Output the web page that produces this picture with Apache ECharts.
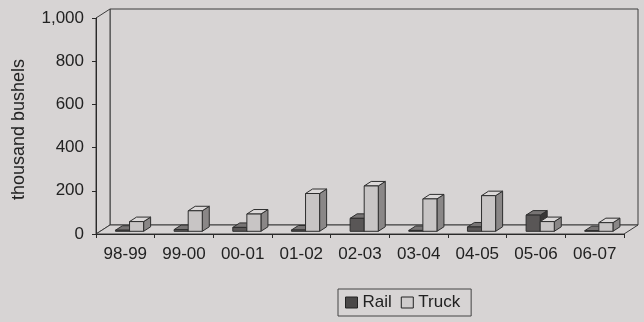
<!DOCTYPE html>
<html>
<head>
<meta charset="utf-8">
<script src="https://cdn.jsdelivr.net/npm/echarts@6/dist/echarts.min.js"></script>
<style>
  html, body { margin: 0; padding: 0; background: #d7d4d4; }
  #chart { width: 644px; height: 322px; }
</style>
</head>
<body>
<div id="chart"></div>
<script>
// Shipments by crop year, thousand bushels
const categories = ['98-99', '99-00', '00-01', '01-02', '02-03', '03-04', '04-05', '05-06', '06-07'];
const rail = [5, 8, 18, 6, 60, 4, 20, 75, 3];
const truck = [45, 95, 80, 175, 210, 150, 165, 45, 40];
const seriesNames = ['Rail', 'Truck'];

// Perspective offset of the back wall relative to the front plane
const DX = 14, DY = -9;
// Depth of the bar slab (fractions of the full depth)
const FRONT = 0.3, BACK = 0.8;
const BAR_FRAC = 0.24;

const FONT = '"Liberation Sans", Arial, sans-serif';
const FS = 17;
const BG = '#d7d4d4';
const EDGE = '#2e2e2e';

const palettes = {
  Rail: { front: '#595656', top: '#777474', side: '#383636', legend: '#4a4848' },
  Truck: { front: '#c8c5c5', top: '#dcd9d9', side: '#8a8787', legend: '#cfcccc' }
};

function renderWalls(params, api) {
  const cs = params.coordSys;
  const x = cs.x, y = cs.y, w = cs.width, h = cs.height;
  const style = { fill: BG, stroke: '#3c3c3c', lineWidth: 1 };
  return {
    type: 'group',
    children: [
      { type: 'polygon', shape: { points: [[x + DX, y + DY], [x + w + DX, y + DY], [x + w + DX, y + h + DY], [x + DX, y + h + DY]] }, style: style },
      { type: 'polygon', shape: { points: [[x, y], [x + DX, y + DY], [x + DX, y + h + DY], [x, y + h]] }, style: style },
      { type: 'polygon', shape: { points: [[x, y + h], [x + DX, y + h + DY], [x + w + DX, y + h + DY], [x + w, y + h]] }, style: style }
    ]
  };
}

function makeBarRenderer(name, slot) {
  const pal = palettes[name];
  return function (params, api) {
    const cat = api.value(0);
    const v = api.value(1);
    const band = api.size([1, 0])[0];
    const w = band * BAR_FRAC;
    const base = api.coord([cat, 0]);
    const top = api.coord([cat, v]);
    const x0 = base[0] + (slot === 0 ? -w : 0);
    const fx = DX * FRONT, fy = DY * FRONT;
    const bx = DX * BACK, by = DY * BACK;
    const yt = top[1], yb = base[1];
    const st = { stroke: EDGE, lineWidth: 1, lineJoin: 'round' };
    return {
      type: 'group',
      children: [
        { type: 'polygon', shape: { points: [[x0 + w + fx, yt + fy], [x0 + w + bx, yt + by], [x0 + w + bx, yb + by], [x0 + w + fx, yb + fy]] },
          style: Object.assign({ fill: pal.side }, st) },
        { type: 'polygon', shape: { points: [[x0 + fx, yt + fy], [x0 + w + fx, yt + fy], [x0 + w + bx, yt + by], [x0 + bx, yt + by]] },
          style: Object.assign({ fill: pal.top }, st) },
        { type: 'rect', shape: { x: x0 + fx, y: yt + fy, width: w, height: yb - yt },
          style: Object.assign({ fill: pal.front }, st) }
      ]
    };
  };
}

const chart = echarts.init(document.getElementById('chart'), null, { renderer: 'canvas' });

chart.setOption({
  backgroundColor: BG,
  animation: false,
  textStyle: { fontFamily: FONT, color: '#222' },
  grid: { left: 96, right: 20, top: 18, bottom: 88 },
  legend: {
    data: seriesNames.map(n => ({ name: n, itemStyle: { color: palettes[n].legend, borderColor: '#222', borderWidth: 1 } })),
    left: 338, top: 289,
    orient: 'horizontal',
    icon: 'rect',
    itemWidth: 12, itemHeight: 11,
    itemGap: 9,
    padding: [5, 11, 5, 7],
    borderColor: '#444', borderWidth: 1,
    textStyle: { fontFamily: FONT, fontSize: FS, color: '#222' }
  },
  xAxis: {
    type: 'category',
    data: categories,
    z: 10,
    axisLine: { lineStyle: { color: '#2a2a2a', width: 1 } },
    axisTick: { show: true, alignWithLabel: false, length: 4, lineStyle: { color: '#2a2a2a' } },
    axisLabel: { fontFamily: FONT, fontSize: FS, color: '#222', margin: 12 },
    splitLine: { show: false }
  },
  yAxis: {
    type: 'value',
    min: 0, max: 1000, interval: 200,
    z: 10,
    name: 'thousand bushels',
    nameLocation: 'middle',
    nameRotate: 90,
    nameGap: 68,
    nameTextStyle: { fontFamily: FONT, fontSize: 18, color: '#222', padding: [0, 7, 0, 0] },
    axisLine: { show: true, lineStyle: { color: '#2a2a2a', width: 1 } },
    axisTick: { show: true, length: 4, lineStyle: { color: '#2a2a2a' } },
    axisLabel: {
      fontFamily: FONT, fontSize: FS, color: '#222', margin: 12,
      formatter: v => v.toLocaleString('en-US')
    },
    splitLine: { show: false }
  },
  series: [
    {
      type: 'custom', name: '_walls', z: 1, silent: true,
      renderItem: renderWalls,
      data: [[0, 0]]
    },
    {
      type: 'custom', name: 'Rail', z: 3,
      itemStyle: { color: palettes.Rail.legend },
      renderItem: makeBarRenderer('Rail', 0),
      encode: { x: 0, y: 1 },
      data: categories.map((c, i) => [i, rail[i]])
    },
    {
      type: 'custom', name: 'Truck', z: 4,
      itemStyle: { color: palettes.Truck.legend },
      renderItem: makeBarRenderer('Truck', 1),
      encode: { x: 0, y: 1 },
      data: categories.map((c, i) => [i, truck[i]])
    }
  ]
});
</script>
</body>
</html>
